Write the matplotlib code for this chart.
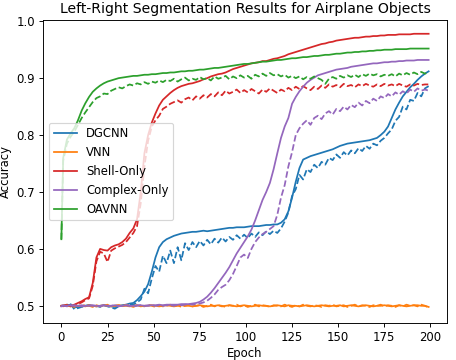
import numpy as np
import matplotlib
matplotlib.use("Agg")
import matplotlib.pyplot as plt

# epochs at which values were read (0, then every odd epoch up to 199)
epochs = np.r_[0, np.arange(1, 200, 2)]

dgcnn_train = [
    0.500, 0.500, 0.501, 0.502, 0.497, 0.498, 0.499, 0.500, 0.501, 0.500,
    0.499, 0.500, 0.501, 0.500, 0.499, 0.498, 0.500, 0.501, 0.502, 0.504,
    0.505, 0.510, 0.517, 0.525, 0.538, 0.560, 0.585, 0.603, 0.612, 0.617,
    0.620, 0.623, 0.625, 0.627, 0.628, 0.629, 0.630, 0.630, 0.631, 0.632,
    0.631, 0.632, 0.633, 0.634, 0.635, 0.636, 0.637, 0.637, 0.638, 0.638,
    0.638, 0.639, 0.640, 0.640, 0.640, 0.641, 0.642, 0.642, 0.643, 0.643,
    0.646, 0.652, 0.666, 0.690, 0.718, 0.742, 0.757, 0.760, 0.763, 0.765,
    0.767, 0.769, 0.771, 0.773, 0.775, 0.778, 0.781, 0.783, 0.785, 0.786,
    0.787, 0.788, 0.789, 0.790, 0.791, 0.793, 0.795, 0.800, 0.806, 0.815,
    0.830, 0.845, 0.857, 0.868, 0.876, 0.884, 0.890, 0.897, 0.903, 0.908,
    0.912]
dgcnn_test = [
    0.500, 0.500, 0.502, 0.503, 0.494, 0.496, 0.498, 0.500, 0.501, 0.499,
    0.500, 0.498, 0.501, 0.499, 0.497, 0.495, 0.499, 0.500, 0.501, 0.503,
    0.502, 0.506, 0.511, 0.530, 0.522, 0.548, 0.570, 0.560, 0.588, 0.575,
    0.597, 0.575, 0.603, 0.580, 0.610, 0.598, 0.612, 0.603, 0.614, 0.606,
    0.616, 0.608, 0.618, 0.611, 0.620, 0.613, 0.621, 0.616, 0.624, 0.618,
    0.625, 0.619, 0.627, 0.621, 0.629, 0.624, 0.631, 0.626, 0.632, 0.628,
    0.636, 0.648, 0.664, 0.693, 0.705, 0.730, 0.722, 0.740, 0.735, 0.748,
    0.742, 0.753, 0.748, 0.760, 0.756, 0.766, 0.760, 0.770, 0.764, 0.773,
    0.768, 0.777, 0.772, 0.781, 0.776, 0.785, 0.782, 0.790, 0.795, 0.803,
    0.810, 0.825, 0.832, 0.850, 0.845, 0.862, 0.860, 0.874, 0.868, 0.882,
    0.886]

vnn_train = [
    0.500, 0.501, 0.500, 0.499, 0.501, 0.500, 0.500, 0.499, 0.501, 0.500,
    0.499, 0.500, 0.501, 0.500, 0.499, 0.500, 0.501, 0.500, 0.500, 0.499,
    0.500, 0.501, 0.499, 0.500, 0.500, 0.501, 0.500, 0.499, 0.500, 0.501,
    0.500, 0.499, 0.500, 0.501, 0.500, 0.500, 0.499, 0.500, 0.501, 0.500,
    0.499, 0.500, 0.500, 0.501, 0.499, 0.500, 0.501, 0.500, 0.499, 0.500,
    0.501, 0.500, 0.499, 0.500, 0.501, 0.500, 0.500, 0.499, 0.500, 0.501,
    0.500, 0.499, 0.501, 0.500, 0.500, 0.499, 0.500, 0.501, 0.500, 0.499,
    0.500, 0.501, 0.500, 0.499, 0.500, 0.500, 0.501, 0.499, 0.500, 0.501,
    0.500, 0.499, 0.500, 0.501, 0.500, 0.499, 0.500, 0.500, 0.501, 0.500,
    0.499, 0.500, 0.501, 0.500, 0.499, 0.500, 0.501, 0.501, 0.500, 0.500,
    0.498]
vnn_test = [
    0.500, 0.499, 0.502, 0.500, 0.498, 0.501, 0.499, 0.502, 0.500, 0.498,
    0.501, 0.499, 0.500, 0.502, 0.498, 0.500, 0.501, 0.499, 0.502, 0.500,
    0.498, 0.501, 0.500, 0.499, 0.502, 0.500, 0.498, 0.501, 0.499, 0.500,
    0.502, 0.499, 0.501, 0.498, 0.500, 0.502, 0.499, 0.500, 0.501, 0.498,
    0.500, 0.502, 0.499, 0.501, 0.500, 0.498, 0.501, 0.500, 0.502, 0.499,
    0.501, 0.498, 0.500, 0.502, 0.499, 0.501, 0.500, 0.498, 0.501, 0.500,
    0.499, 0.502, 0.500, 0.498, 0.501, 0.499, 0.502, 0.500, 0.499, 0.501,
    0.500, 0.498, 0.501, 0.500, 0.502, 0.499, 0.500, 0.501, 0.498, 0.500,
    0.502, 0.499, 0.501, 0.500, 0.498, 0.501, 0.500, 0.502, 0.499, 0.501,
    0.500, 0.498, 0.501, 0.499, 0.502, 0.500, 0.501, 0.499, 0.502, 0.500,
    0.497]

shell_train = [
    0.500, 0.500, 0.501, 0.500, 0.502, 0.505, 0.508, 0.512, 0.515, 0.540,
    0.585, 0.600, 0.598, 0.597, 0.603, 0.606, 0.608, 0.612, 0.618, 0.628,
    0.636, 0.652, 0.700, 0.768, 0.800, 0.822, 0.838, 0.852, 0.862, 0.868,
    0.874, 0.879, 0.883, 0.886, 0.888, 0.890, 0.891, 0.893, 0.895, 0.898,
    0.900, 0.903, 0.905, 0.907, 0.908, 0.910, 0.913, 0.916, 0.918, 0.920,
    0.922, 0.924, 0.926, 0.927, 0.928, 0.930, 0.930, 0.932, 0.934, 0.935,
    0.937, 0.939, 0.942, 0.944, 0.946, 0.948, 0.950, 0.952, 0.954, 0.956,
    0.958, 0.960, 0.961, 0.963, 0.964, 0.966, 0.967, 0.968, 0.969, 0.970,
    0.971, 0.971, 0.972, 0.973, 0.973, 0.974, 0.974, 0.975, 0.975, 0.976,
    0.976, 0.976, 0.977, 0.977, 0.977, 0.977, 0.978, 0.978, 0.978, 0.978,
    0.978]
shell_test = [
    0.500, 0.500, 0.501, 0.499, 0.501, 0.503, 0.506, 0.510, 0.513, 0.535,
    0.578, 0.595, 0.592, 0.577, 0.597, 0.601, 0.604, 0.607, 0.612, 0.620,
    0.628, 0.640, 0.680, 0.745, 0.790, 0.815, 0.826, 0.834, 0.846, 0.850,
    0.855, 0.858, 0.861, 0.857, 0.863, 0.866, 0.861, 0.868, 0.864, 0.870,
    0.866, 0.872, 0.868, 0.875, 0.870, 0.878, 0.873, 0.876, 0.880, 0.874,
    0.879, 0.875, 0.881, 0.877, 0.873, 0.880, 0.876, 0.882, 0.878, 0.874,
    0.880, 0.877, 0.883, 0.879, 0.885, 0.881, 0.886, 0.882, 0.879, 0.885,
    0.881, 0.887, 0.883, 0.889, 0.885, 0.888, 0.884, 0.890, 0.886, 0.888,
    0.884, 0.889, 0.886, 0.890, 0.887, 0.885, 0.889, 0.886, 0.890, 0.887,
    0.889, 0.886, 0.890, 0.887, 0.885, 0.889, 0.887, 0.890, 0.888, 0.889,
    0.889]

complex_train = [
    0.499, 0.500, 0.500, 0.501, 0.500, 0.500, 0.501, 0.500, 0.500, 0.501,
    0.500, 0.500, 0.501, 0.500, 0.500, 0.501, 0.500, 0.500, 0.501, 0.500,
    0.500, 0.501, 0.501, 0.500, 0.501, 0.501, 0.501, 0.502, 0.501, 0.502,
    0.502, 0.502, 0.502, 0.503, 0.503, 0.503, 0.504, 0.505, 0.507, 0.511,
    0.516, 0.523, 0.531, 0.540, 0.549, 0.558, 0.568, 0.580, 0.592, 0.602,
    0.612, 0.622, 0.634, 0.650, 0.668, 0.686, 0.700, 0.716, 0.740, 0.768,
    0.795, 0.815, 0.830, 0.855, 0.867, 0.877, 0.885, 0.892, 0.897, 0.901,
    0.905, 0.907, 0.909, 0.911, 0.913, 0.915, 0.916, 0.917, 0.918, 0.920,
    0.921, 0.922, 0.923, 0.924, 0.925, 0.926, 0.926, 0.927, 0.928, 0.928,
    0.929, 0.929, 0.930, 0.930, 0.931, 0.931, 0.931, 0.932, 0.932, 0.932,
    0.932]
complex_test = [
    0.500, 0.501, 0.499, 0.500, 0.501, 0.500, 0.499, 0.500, 0.501, 0.500,
    0.500, 0.499, 0.501, 0.500, 0.500, 0.501, 0.499, 0.500, 0.501, 0.500,
    0.499, 0.500, 0.501, 0.500, 0.500, 0.501, 0.500, 0.501, 0.500, 0.501,
    0.501, 0.500, 0.502, 0.501, 0.502, 0.503, 0.502, 0.503, 0.504, 0.506,
    0.509, 0.514, 0.520, 0.528, 0.533, 0.537, 0.545, 0.556, 0.570, 0.585,
    0.590, 0.584, 0.600, 0.612, 0.620, 0.626, 0.630, 0.635, 0.640, 0.660,
    0.690, 0.712, 0.745, 0.770, 0.800, 0.812, 0.820, 0.826, 0.818, 0.830,
    0.834, 0.828, 0.838, 0.842, 0.836, 0.846, 0.842, 0.850, 0.845, 0.853,
    0.849, 0.857, 0.852, 0.860, 0.856, 0.864, 0.860, 0.868, 0.865, 0.872,
    0.868, 0.875, 0.871, 0.877, 0.873, 0.880, 0.876, 0.882, 0.878, 0.880,
    0.878]

oavnn_train = [
    0.617, 0.760, 0.792, 0.803, 0.812, 0.826, 0.843, 0.856, 0.867, 0.876,
    0.882, 0.887, 0.891, 0.894, 0.896, 0.898, 0.900, 0.901, 0.902, 0.903,
    0.904, 0.904, 0.905, 0.906, 0.906, 0.907, 0.907, 0.908, 0.909, 0.909,
    0.910, 0.910, 0.911, 0.912, 0.912, 0.913, 0.913, 0.914, 0.915, 0.915,
    0.916, 0.917, 0.918, 0.918, 0.919, 0.920, 0.921, 0.922, 0.923, 0.924,
    0.925, 0.925, 0.926, 0.927, 0.928, 0.929, 0.929, 0.930, 0.931, 0.932,
    0.932, 0.933, 0.934, 0.935, 0.935, 0.936, 0.937, 0.937, 0.938, 0.939,
    0.939, 0.940, 0.941, 0.941, 0.942, 0.943, 0.943, 0.944, 0.945, 0.945,
    0.946, 0.946, 0.947, 0.947, 0.948, 0.948, 0.949, 0.949, 0.950, 0.950,
    0.950, 0.951, 0.951, 0.951, 0.951, 0.952, 0.952, 0.952, 0.952, 0.952,
    0.952]
oavnn_test = [
    0.617, 0.755, 0.785, 0.797, 0.806, 0.818, 0.830, 0.840, 0.849, 0.858,
    0.865, 0.868, 0.873, 0.872, 0.878, 0.881, 0.884, 0.882, 0.886, 0.889,
    0.887, 0.891, 0.889, 0.893, 0.890, 0.894, 0.892, 0.896, 0.893, 0.897,
    0.895, 0.899, 0.894, 0.898, 0.901, 0.896, 0.899, 0.897, 0.902, 0.898,
    0.900, 0.896, 0.903, 0.899, 0.901, 0.904, 0.898, 0.903, 0.900, 0.905,
    0.901, 0.904, 0.899, 0.906, 0.903, 0.908, 0.904, 0.909, 0.905, 0.907,
    0.903, 0.906, 0.901, 0.904, 0.900, 0.903, 0.898, 0.902, 0.899, 0.903,
    0.900, 0.897, 0.890, 0.899, 0.902, 0.899, 0.904, 0.901, 0.905, 0.902,
    0.906, 0.902, 0.907, 0.904, 0.908, 0.905, 0.907, 0.903, 0.906, 0.904,
    0.907, 0.903, 0.908, 0.905, 0.909, 0.906, 0.910, 0.907, 0.911, 0.908,
    0.910]

models = ["DGCNN", "VNN", "Shell-Only", "Complex-Only", "OAVNN"]
colors = ["C0", "C1", "C3", "C4", "C2"]
train_curves = [dgcnn_train, vnn_train, shell_train, complex_train, oavnn_train]
test_curves = [dgcnn_test, vnn_test, shell_test, complex_test, oavnn_test]

dpi = 84
fig = plt.figure(figsize=(456 / dpi, 360 / dpi), dpi=dpi)
ax = fig.add_axes([43 / 456, 37 / 360, 404 / 456, 303 / 360])

for name, c, tr, te in zip(models, colors, train_curves, test_curves):
    ax.plot(epochs, tr, color=c, label=name)
    ax.plot(epochs, te, color=c, linestyle="--")

ax.set_title("Left-Right Segmentation Results for Airplane Objects")
ax.set_xlabel("Epoch", labelpad=2)
ax.set_ylabel("Accuracy")
ax.set_xticks(np.arange(0, 201, 25))
ax.legend(loc="center left")

fig.savefig("out.png", dpi=dpi)
